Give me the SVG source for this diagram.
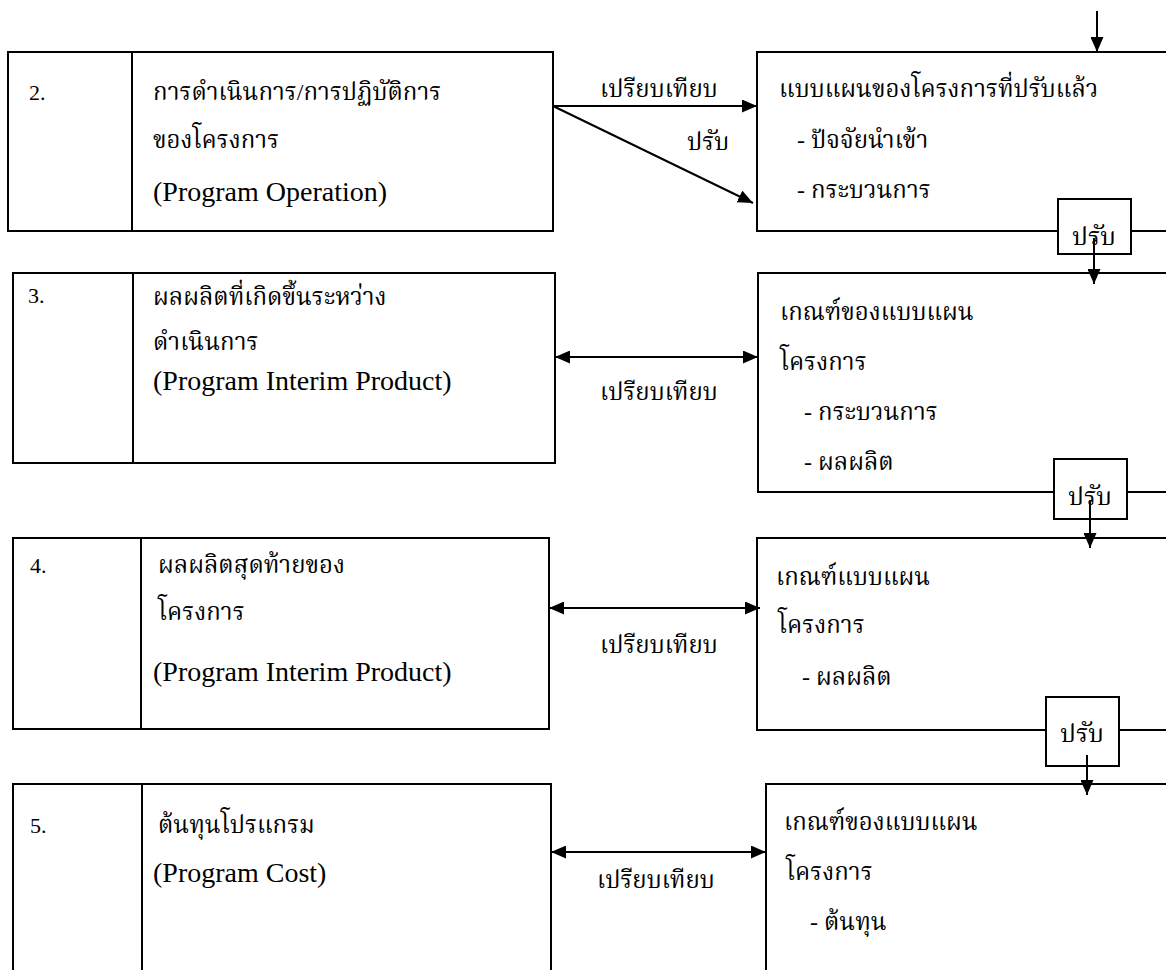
<svg xmlns="http://www.w3.org/2000/svg" width="1166" height="970" viewBox="0 0 1166 970">
<defs>
<marker id="ah" viewBox="0 0 15 13" refX="15" refY="6.5" markerWidth="15" markerHeight="13" markerUnits="userSpaceOnUse" orient="auto-start-reverse">
<path d="M0,0 L15,6.5 L0,13 Z" fill="#000"/>
</marker>
<style>
.box{fill:#fff;stroke:#000;stroke-width:2}
.ln{stroke:#000;stroke-width:2;fill:none}
.t{font-family:'Liberation Serif','Angsana New','Norasi','Kinnari','Noto Serif Thai','Noto Sans Thai','DejaVu Sans',serif;font-size:24px;fill:#000}
.e{font-family:'Liberation Serif',serif;font-size:28px;fill:#000}
.n{font-family:'Liberation Serif',serif;font-size:22px;fill:#000}
.p{font-family:'Liberation Serif','Angsana New','Norasi','Kinnari','Noto Serif Thai','Noto Sans Thai','DejaVu Sans',serif;font-size:25px;fill:#000;text-anchor:middle}
</style>
</defs>
<rect width="1166" height="970" fill="#fff"/>

<g id="row2-left">
<rect class="box" x="8" y="52" width="545" height="179"/>
<line class="ln" x1="132" y1="52" x2="132" y2="231"/>
<text class="n" x="29" y="100">2.</text>
<text class="t" x="153" y="100">การดำเนินการ/การปฏิบัติการ</text>
<text class="t" x="153" y="148">ของโครงการ</text>
<text class="e" x="153" y="201">(Program Operation)</text>
</g>
<g id="row2-right">
<rect class="box" x="757" y="52" width="420" height="179"/>
<text class="t" x="779" y="97">แบบแผนของโครงการที่ปรับแล้ว</text>
<text class="t" x="797" y="148">- ปัจจัยนำเข้า</text>
<text class="t" x="797" y="198">- กระบวนการ</text>
</g>

<g id="row3-left">
<rect class="box" x="13" y="273" width="542" height="190"/>
<line class="ln" x1="133" y1="273" x2="133" y2="463"/>
<text class="n" x="28" y="303">3.</text>
<text class="t" x="153" y="305">ผลผลิตที่เกิดขึ้นระหว่าง</text>
<text class="t" x="153" y="350">ดำเนินการ</text>
<text class="e" x="153" y="390">(Program Interim Product)</text>
</g>
<g id="row3-right">
<rect class="box" x="758" y="273" width="420" height="219"/>
<text class="t" x="780" y="320">เกณฑ์ของแบบแผน</text>
<text class="t" x="780" y="370">โครงการ</text>
<text class="t" x="804" y="420">- กระบวนการ</text>
<text class="t" x="804" y="470">- ผลผลิต</text>
</g>

<g id="row4-left">
<rect class="box" x="13" y="538" width="536" height="191"/>
<line class="ln" x1="141" y1="538" x2="141" y2="729"/>
<text class="n" x="30" y="573">4.</text>
<text class="t" x="158" y="573">ผลผลิตสุดท้ายของ</text>
<text class="t" x="158" y="620">โครงการ</text>
<text class="e" x="153" y="681">(Program Interim Product)</text>
</g>
<g id="row4-right">
<rect class="box" x="757" y="538" width="420" height="192"/>
<text class="t" x="776" y="585">เกณฑ์แบบแผน</text>
<text class="t" x="778" y="633">โครงการ</text>
<text class="t" x="802" y="685">- ผลผลิต</text>
</g>

<g id="row5-left">
<rect class="box" x="13" y="784" width="538" height="200"/>
<line class="ln" x1="142" y1="784" x2="142" y2="970"/>
<text class="n" x="30" y="833">5.</text>
<text class="t" x="158" y="833">ต้นทุนโปรแกรม</text>
<text class="e" x="153" y="882">(Program Cost)</text>
</g>
<g id="row5-right">
<rect class="box" x="766" y="784" width="420" height="200"/>
<text class="t" x="784" y="830">เกณฑ์ของแบบแผน</text>
<text class="t" x="786" y="880">โครงการ</text>
<text class="t" x="810" y="930">- ต้นทุน</text>
</g>

<g id="connectors">
<line class="ln" x1="1097" y1="11" x2="1097" y2="52" marker-end="url(#ah)"/>
<line class="ln" x1="553" y1="106" x2="757" y2="106" marker-end="url(#ah)"/>
<line class="ln" x1="553" y1="106" x2="753" y2="203" marker-end="url(#ah)"/>
<line class="ln" x1="555" y1="357" x2="758" y2="357" marker-start="url(#ah)" marker-end="url(#ah)"/>
<line class="ln" x1="549" y1="608" x2="760" y2="608" marker-start="url(#ah)" marker-end="url(#ah)"/>
<line class="ln" x1="551" y1="852" x2="766" y2="852" marker-start="url(#ah)" marker-end="url(#ah)"/>
</g>
<g id="labels">
<text class="t" x="600" y="97">เปรียบเทียบ</text>
<text class="t" x="687" y="150">ปรับ</text>
<text class="t" x="600" y="400">เปรียบเทียบ</text>
<text class="t" x="600" y="653">เปรียบเทียบ</text>
<text class="t" x="597" y="888">เปรียบเทียบ</text>
</g>
<g id="adjust2">
<rect class="box" x="1058" y="199" width="73" height="55"/>
<text class="p" x="1094" y="245">ปรับ</text>
<line class="ln" x1="1094" y1="238" x2="1094" y2="284" marker-end="url(#ah)"/>
</g>
<g id="adjust3">
<rect class="box" x="1054" y="459" width="73" height="60"/>
<text class="p" x="1090" y="505">ปรับ</text>
<line class="ln" x1="1090" y1="500" x2="1090" y2="548" marker-end="url(#ah)"/>
</g>
<g id="adjust4">
<rect class="box" x="1046" y="697" width="73" height="69"/>
<text class="p" x="1082" y="742">ปรับ</text>
<line class="ln" x1="1087" y1="755" x2="1087" y2="795" marker-end="url(#ah)"/>
</g>
</svg>
